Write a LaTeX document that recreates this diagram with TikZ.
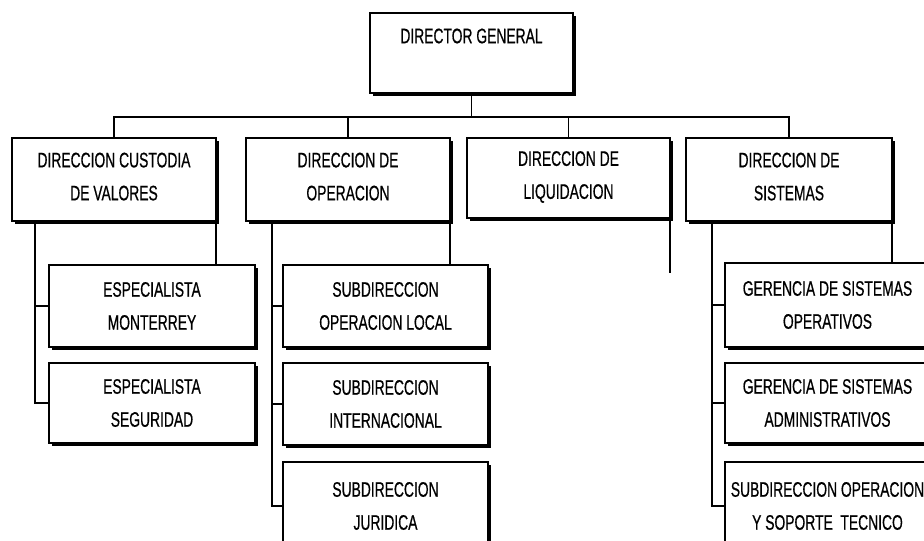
\documentclass[tikz,border=0pt]{standalone}
\usepackage{fontspec}
\setmainfont{Liberation Sans}[FakeStretch=0.66,FakeBold=0.6]
\usetikzlibrary{shadows}
\tikzset{
  box/.style={draw=black, line width=1.2pt, fill=white, inner sep=0pt, outer sep=0pt,
    align=center, font=\fontsize{21}{33}\selectfont,
    drop shadow={shadow xshift=2.6pt, shadow yshift=-2.6pt, fill=black, opacity=1}},
  up/.style={text depth=6pt},
  conn/.style={draw=black, line width=1.3pt},
  tail/.style={draw=black, line width=2.6pt},
  lbl/.style={inner sep=0pt, font=\fontsize{21}{33}\selectfont}
}
\begin{document}
\begin{tikzpicture}[x=1pt,y=-1pt]
\useasboundingbox (0,0) rectangle (924,541);
\clip (0,0) rectangle (924,541);
% top
\node[box, minimum width=203, minimum height=80] (dir) at (471.5,53) {};
\node[lbl] (dirt) at (471.5,36) {DIRECTOR GENERAL};
% level 2
\node[box, up, minimum width=204, minimum height=83] (A) at (114,179.5) {DIRECCION CUSTODIA\\DE VALORES};
\node[box, up, minimum width=204, minimum height=83] (B) at (348,179.5) {DIRECCION DE\\OPERACION};
\node[box, up, minimum width=203, minimum height=80] (C) at (568.5,178) {DIRECCION DE\\LIQUIDACION};
\node[box, up, minimum width=206, minimum height=83] (D) at (789,179.5) {DIRECCION DE\\SISTEMAS};
% children A
\node[box, minimum width=206, minimum height=82] (A1) at (152,306) {ESPECIALISTA\\MONTERREY};
\node[box, minimum width=206, minimum height=80] (A2) at (152,403) {ESPECIALISTA\\SEGURIDAD};
% children B
\node[box, minimum width=205, minimum height=82] (B1) at (385.5,306) {SUBDIRECCION\\OPERACION LOCAL};
\node[box, minimum width=205, minimum height=82] (B2) at (385.5,404) {SUBDIRECCION\\INTERNACIONAL};
\node[box, minimum width=205, minimum height=88] (B3) at (385.5,506) {SUBDIRECCION\\JURIDICA};
% children D
\node[box, minimum width=205, minimum height=84] (D1) at (827.5,305) {GERENCIA DE SISTEMAS\\OPERATIVOS};
\node[box, minimum width=205, minimum height=80] (D2) at (827.5,403) {GERENCIA DE SISTEMAS\\ADMINISTRATIVOS};
\node[box, minimum width=205, minimum height=88] (D3) at (827.5,506) {SUBDIRECCION OPERACION\\Y SOPORTE\ \ TECNICO};
% bus
\draw[conn] (dir.south) -- ++(0,24) -| (A.north);
\draw[conn] (dir.south) -- ++(0,24) -| (B.north);
\draw[conn] (dir.south) -- ++(0,24) -| (C.north);
\draw[conn] (dir.south) -- ++(0,24) -| (D.north);
% trunks
\draw[conn] ([xshift=23pt]A.south west) |- (A1.west);
\draw[conn] ([xshift=23pt]A.south west) |- (A2.west);
\draw[conn] ([xshift=26pt]B.south west) |- (B1.west);
\draw[conn] ([xshift=26pt]B.south west) |- (B2.west);
\draw[conn] ([xshift=26pt]B.south west) |- (B3.west);
\draw[conn] ([xshift=26pt]D.south west) |- (D1.west);
\draw[conn] ([xshift=26pt]D.south west) |- (D2.west);
\draw[conn] ([xshift=26pt]D.south west) |- (D3.west);
% right tails
\draw[tail] (A.south east) -- (A.south east |- A1.north);
\draw[tail] (B.south east) -- (B.south east |- B1.north);
\draw[tail] (D.south east) -- (D.south east |- D1.north);
\coordinate (Cend) at (670,273);
\draw[tail] (C.south east) -- (Cend);
\end{tikzpicture}
\end{document}
